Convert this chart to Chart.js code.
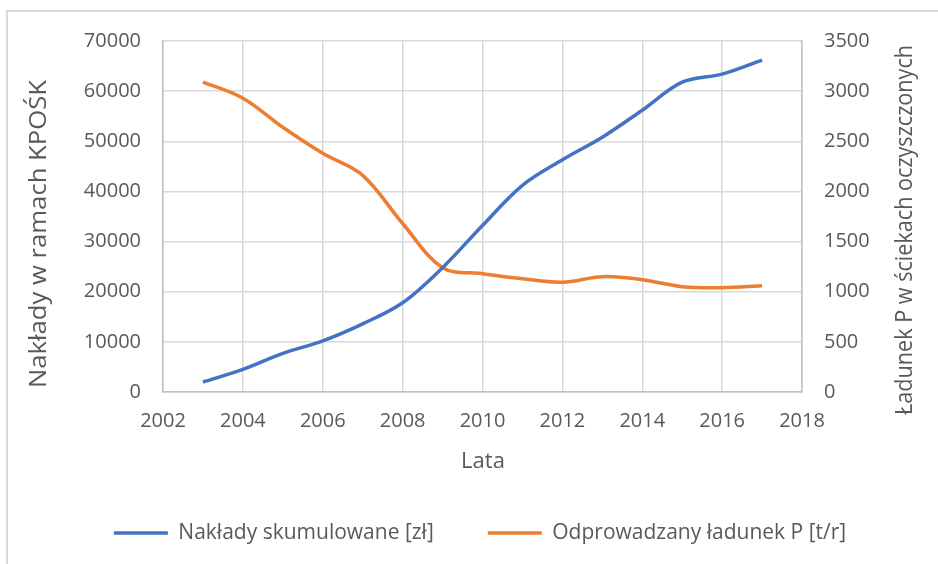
<!DOCTYPE html>
<html>
<head>
<meta charset="utf-8">
<script src="https://cdn.jsdelivr.net/npm/chart.js@4/dist/chart.umd.min.js"></script>
<style>
  html, body { margin: 0; padding: 0; background: #ffffff; }
  #wrap { width: 938px; height: 564px; position: relative; }
</style>
</head>
<body>
<div id="wrap"><canvas id="c" width="938" height="564"></canvas></div>
<script>
// Years on the horizontal axis
const years = [2003, 2004, 2005, 2006, 2007, 2008, 2009, 2010, 2011, 2012, 2013, 2014, 2015, 2016, 2017];
// Cumulative expenditure within KPOŚK [zł]
const naklady = [2000, 4500, 7700, 10200, 13600, 17800, 24800, 33200, 41200, 46300, 50800, 56200, 61800, 63400, 66200];
// Phosphorus load discharged with treated wastewater [t/r]
const ladunek = [3090, 2930, 2640, 2380, 2160, 1680, 1240, 1180, 1130, 1095, 1150, 1120, 1050, 1040, 1060];

const seriesNames = ['Nakłady skumulowane [zł]', 'Odprowadzany ładunek P [t/r]'];
const titleLeft = 'Nakłady w ramach KPOŚK';
const titleRight = 'Ładunek P w ściekach oczyszczonych';
const titleX = 'Lata';

const FONT = "'Open Sans', 'DejaVu Sans', sans-serif";
const TEXT = '#595959';
const GRID = '#d9d9d9';
const AXIS = '#bfbfbf';

// Draws a rotated title fitted to a given length along the axis
function verticalTitle(ctx, text, cx, cy, length) {
  ctx.save();
  ctx.translate(cx, cy);
  ctx.rotate(-Math.PI / 2);
  const w = ctx.measureText(text).width;
  ctx.scale(length / w, 1);
  ctx.fillText(text, 0, 0);
  ctx.restore();
}

// Frame and axis titles
const decor = {
  id: 'decor',
  beforeDraw(chart) {
    const ctx = chart.ctx;
    ctx.save();
    ctx.strokeStyle = GRID;
    ctx.lineWidth = 2;
    ctx.beginPath();
    ctx.moveTo(7, 600);
    ctx.lineTo(7, 11);
    ctx.lineTo(960, 11);
    ctx.stroke();
    ctx.restore();
  },
  afterDraw(chart) {
    const ctx = chart.ctx;
    ctx.save();
    ctx.fillStyle = TEXT;
    ctx.font = '23px ' + FONT;
    ctx.textAlign = 'center';
    ctx.textBaseline = 'middle';
    verticalTitle(ctx, titleLeft, 39, 234, 308);
    verticalTitle(ctx, titleRight, 905, 230, 370);
    ctx.font = '22px ' + FONT;
    ctx.fillText(titleX, 483, 462);
    ctx.restore();
  }
};

const tickFont = { family: FONT, size: 20 };

new Chart(document.getElementById('c'), {
  type: 'line',
  data: {
    datasets: [
      {
        label: seriesNames[0],
        data: years.map((y, i) => ({ x: y, y: naklady[i] })),
        borderColor: '#4472C4',
        backgroundColor: '#4472C4',
        borderWidth: 3.5,
        pointRadius: 0,
        tension: 0.35,
        yAxisID: 'y'
      },
      {
        label: seriesNames[1],
        data: years.map((y, i) => ({ x: y, y: ladunek[i] })),
        borderColor: '#ED7D31',
        backgroundColor: '#ED7D31',
        borderWidth: 3.5,
        pointRadius: 0,
        tension: 0.35,
        yAxisID: 'y1'
      }
    ]
  },
  options: {
    responsive: false,
    animation: false,
    devicePixelRatio: 1,
    layout: { padding: { left: 22, right: 0, top: 41, bottom: 10.5 } },
    plugins: {
      legend: {
        position: 'bottom',
        labels: {
          font: { family: FONT, size: 21 },
          color: TEXT,
          boxWidth: 54,
          boxHeight: 0,
          padding: 54
        }
      },
      tooltip: { enabled: false }
    },
    scales: {
      x: {
        type: 'linear',
        min: 2002,
        max: 2018,
        ticks: {
          stepSize: 2,
          font: tickFont,
          color: TEXT,
          padding: 17,
          maxRotation: 0,
          callback: v => String(v)
        },
        grid: { color: GRID, lineWidth: 1.5, drawTicks: false },
        border: { color: AXIS, width: 1.5 },
        afterFit(s) { s.height = 76.5; }
      },
      y: {
        position: 'left',
        min: 0,
        max: 70000,
        ticks: {
          stepSize: 10000,
          font: tickFont,
          color: TEXT,
          padding: 22,
          callback: v => String(v)
        },
        grid: { color: GRID, lineWidth: 1.5, drawTicks: false },
        border: { color: AXIS, width: 1.5 },
        afterFit(s) { s.width = 141; }
      },
      y1: {
        position: 'right',
        min: 0,
        max: 3500,
        ticks: {
          stepSize: 500,
          font: tickFont,
          color: TEXT,
          padding: 22,
          callback: v => String(v)
        },
        grid: { display: false, drawTicks: false },
        border: { color: AXIS, width: 1.5 },
        afterFit(s) { s.width = 136; }
      }
    }
  },
  plugins: [decor]
});
</script>
</body>
</html>
